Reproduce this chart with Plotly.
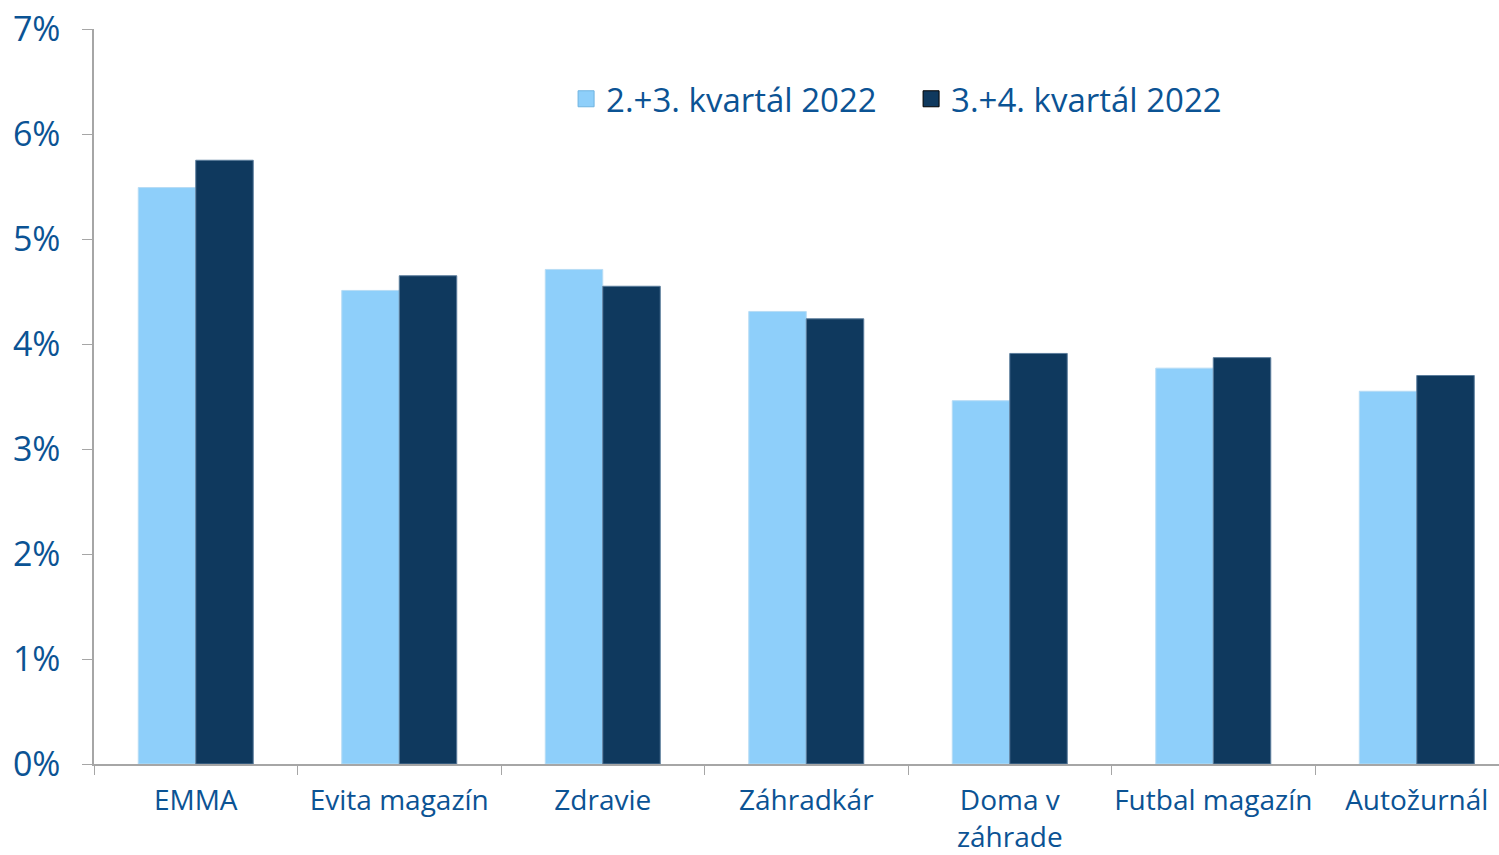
import plotly.graph_objects as go

categories = ["EMMA", "Evita magazín", "Zdravie", "Záhradkár", "Doma v<br>záhrade", "Futbal magazín", "Autožurnál"]
series_names = ["2.+3. kvartál 2022", "3.+4. kvartál 2022"]
q23 = [0.0549, 0.0451, 0.0471, 0.0431, 0.0346, 0.0377, 0.0355]
q34 = [0.0575, 0.0465, 0.0455, 0.0424, 0.0391, 0.0387, 0.0370]
y_ticks = [0, 0.01, 0.02, 0.03, 0.04, 0.05, 0.06, 0.07]

light = "#8ecffa"
dark = "#0f395e"
text_color = "#0b5394"
font_family = "Open Sans"

fig = go.Figure()
fig.add_trace(go.Bar(
    x=categories, y=q23, name=series_names[0], showlegend=False,
    marker=dict(color=light, line=dict(color="#b7dcf5", width=1)),
))
fig.add_trace(go.Bar(
    x=categories, y=q34, name=series_names[1], showlegend=False,
    marker=dict(color=dark, line=dict(color="#5b7d9c", width=1)),
))
# legend entries with larger square swatches
for name, col, edge in [(series_names[0], light, "#6fb3e0"), (series_names[1], dark, "#000000")]:
    fig.add_trace(go.Scatter(
        x=[None], y=[None], mode="markers", name=name,
        marker=dict(symbol="square", size=23, color=col, line=dict(color=edge, width=1)),
    ))

fig.update_layout(
    width=1499, height=855,
    margin=dict(l=94, r=0, t=29, b=91, autoexpand=False),
    paper_bgcolor="white", plot_bgcolor="white",
    barmode="group", bargap=0.435, bargroupgap=0,
    font=dict(family=font_family, color=text_color, size=28),
    showlegend=True,
    legend=dict(orientation="h", x=0.336, y=0.905, xanchor="left", yanchor="middle",
                font=dict(size=33, color=text_color), bgcolor="rgba(0,0,0,0)",
                itemwidth=30, traceorder="normal", itemsizing="trace",
                entrywidth=300, entrywidthmode="pixels"),
)
fig.update_xaxes(
    type="category", range=[-0.5, 6.404], automargin=False, tickangle=0,
    showline=True, linecolor="#a6a6a6", linewidth=1.5,
    ticks="outside", tickson="boundaries", ticklen=9, tickcolor="#a6a6a6",
    tickfont=dict(size=28, color=text_color), showgrid=False,
    ticklabelstandoff=11,
)
fig.update_yaxes(
    range=[0, 0.07], tickvals=y_ticks, tickformat=".0%", automargin=False,
    showline=True, linecolor="#a6a6a6", linewidth=1.5,
    ticks="outside", ticklen=10, tickcolor="#a6a6a6",
    tickfont=dict(size=34, color=text_color), showgrid=False,
    ticklabelstandoff=15, zeroline=False, ticklabeloverflow="allow",
)

fig.write_html("out.html", config={"displayModeBar": False},
               post_script="document.body.style.margin='0';")
